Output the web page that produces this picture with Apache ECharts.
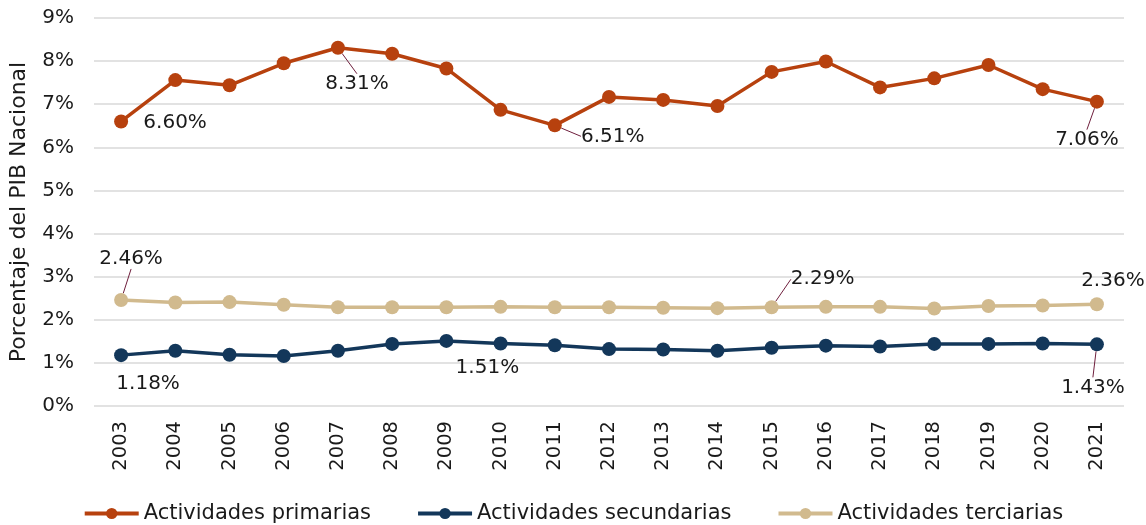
<!DOCTYPE html>
<html><head><meta charset="utf-8">
<script src="https://cdn.jsdelivr.net/npm/echarts@6/dist/echarts.min.js"></script>
<style>html,body{margin:0;padding:0;background:#fff}#c{width:1146px;height:525px}</style>
</head><body><div id="c"></div>
<script>
const years = ['2003','2004','2005','2006','2007','2008','2009','2010','2011','2012','2013','2014','2015','2016','2017','2018','2019','2020','2021'];
const primarias = [6.60,7.56,7.44,7.95,8.31,8.17,7.83,6.87,6.51,7.17,7.10,6.96,7.75,7.99,7.39,7.60,7.91,7.35,7.06];
const secundarias = [1.18,1.28,1.19,1.16,1.28,1.44,1.51,1.45,1.41,1.32,1.31,1.28,1.35,1.40,1.38,1.44,1.44,1.45,1.43];
const terciarias = [2.46,2.40,2.41,2.35,2.29,2.29,2.29,2.30,2.29,2.29,2.28,2.27,2.29,2.30,2.30,2.26,2.32,2.33,2.36];
const seriesNames = ['Actividades primarias','Actividades secundarias','Actividades terciarias'];
const yTicks = [0,1,2,3,4,5,6,7,8,9];
// labelled points: [seriesIndex, dataIndex, dx, dy, showLine]
const annotations = [
  [0,0,54,1,false],[0,4,19,36,true],[0,8,58,11,true],[0,18,-10,38,true],
  [1,0,27,29,false],[1,6,41,27,false],[1,18,-4,43,true],
  [2,0,10,-41,true],[2,12,51,-28,true],[2,18,16,-23,false]
];
const colors = ['#B7410E','#13375A','#D1BA8E'];
const FONT = 'DejaVu Sans';

function buildData(si, arr){
  return arr.map((v,i)=>{
    const a = annotations.find(x=>x[0]===si && x[1]===i);
    if(!a) return v;
    return {value:v, label:{show:true, position:'inside', formatter:(p)=>p.value.toFixed(2)+'%'},
            labelLine:{show:a[4]}};
  });
}
function layoutFor(si){
  return function(params){
    const a = annotations.find(x=>x[0]===si && x[1]===params.dataIndex);
    if(!a) return {};
    return {dx:a[2], dy:a[3]};
  };
}
const chart = echarts.init(document.getElementById('c'));
const series = [primarias,secundarias,terciarias].map((arr,si)=>({
  name: seriesNames[si], type:'line', data: buildData(si, arr),
  symbol:'circle', symbolSize:14, lineStyle:{width:3.5,color:colors[si]},
  itemStyle:{color:colors[si]},
  label:{show:false, color:'#1a1a1a', fontSize:20, fontFamily:FONT},
  labelLine:{show:false, lineStyle:{color:'#6E1E3C', width:1}, smooth:false},
  labelLayout: layoutFor(si),
  emphasis:{disabled:true}, animation:false
}));
chart.setOption({
  animation:false,
  textStyle:{fontFamily:FONT},
  grid:{left:93,right:22,top:18,bottom:119,containLabel:false},
  xAxis:{type:'category',data:years,boundaryGap:true,
    axisLine:{show:false},axisTick:{show:false},
    axisLabel:{rotate:90,fontSize:19.5,color:'#1a1a1a',margin:15,fontFamily:FONT}},
  yAxis:{type:'value',min:yTicks[0],max:yTicks[yTicks.length-1],interval:1,
    name:'Porcentaje del PIB Nacional',nameLocation:'middle',nameGap:64,
    nameTextStyle:{fontSize:22,color:'#1a1a1a',fontFamily:FONT},
    axisLabel:{formatter:'{value}%',fontSize:20,color:'#1a1a1a',margin:20,fontFamily:FONT},
    splitLine:{lineStyle:{color:'#D9D9D9',width:1.5}}},
  legend:{top:498,left:'center',itemWidth:54,itemHeight:14,itemGap:45,
    lineStyle:{width:4},
    textStyle:{fontSize:21,color:'#1a1a1a',fontFamily:FONT},data:seriesNames},
  series:series
});
</script></body></html>
